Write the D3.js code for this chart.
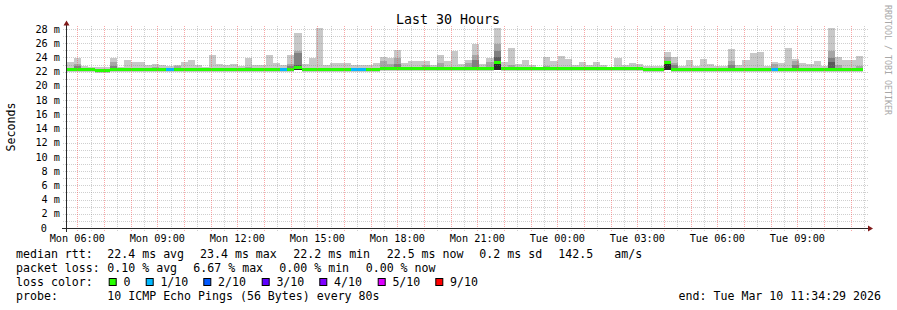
<!DOCTYPE html>
<html>
<head>
<meta charset="utf-8">
<script src="https://d3js.org/d3.v7.min.js"></script>
<style>
  html, body { margin: 0; padding: 0; background: #fff; }
  svg { display: block; }
  text { font-family: "DejaVu Sans Mono", monospace; fill: #000; white-space: pre; }
</style>
</head>
<body>
<svg id="viz"></svg>
<script>
// ----------------------------------------------------------------------------------------------------------------
// DATA

var titleText = "Last 30 Hours";
var axisTitle = "Seconds";
var sideText = "RRDTOOL / TOBI OETIKER";

var tStart = new Date(2026, 2, 9, 5, 34, 29);
var tEnd = new Date(2026, 2, 10, 11, 34, 29);
var colStart = new Date(2026, 2, 9, 5, 36, 29);   // first 16 minute step
var colMinutes = 16;

// median rtt per step (ms)
var rttMedian = [
  22.3, 22.3, 22.3, 22.3, 22.1, 22.15, 22.3, 22.3, 22.3, 22.3, 22.3, 22.3, 22.3, 22.3, 22.3, 22.3,
  22.3, 22.3, 22.3, 22.3, 22.3, 22.3, 22.3, 22.3, 22.3, 22.3, 22.3, 22.3, 22.3, 22.3, 22.3, 22.3,
  22.6, 22.25, 22.25, 22.25, 22.25, 22.25, 22.25, 22.25, 22.3, 22.3, 22.3, 22.3, 22.45, 22.45, 22.45, 22.45,
  22.45, 22.45, 22.45, 22.45, 22.45, 22.45, 22.45, 22.45, 22.45, 22.45, 22.45, 22.45, 23.3, 22.4, 22.4, 22.4,
  22.4, 22.4, 22.4, 22.4, 22.4, 22.4, 22.4, 22.4, 22.4, 22.4, 22.4, 22.4, 22.4, 22.4, 22.4, 22.4,
  22.4, 22.25, 22.25, 22.25, 23.25, 22.3, 22.3, 22.3, 22.3, 22.3, 22.3, 22.3, 22.3, 22.3, 22.3, 22.3,
  22.3, 22.3, 22.3, 22.3, 22.3, 22.3, 22.3, 22.3, 22.3, 22.3, 22.3, 22.3, 22.3, 22.3, 22.3, 22.3
];

// fastest ping per step (ms)
var rttMin = [
  21.95, 21.95, 21.95, 21.95, 21.8, 21.8, 21.95, 21.95, 21.95, 21.95, 21.95, 21.95, 21.95, 21.95, 21.95, 21.95,
  21.95, 21.95, 21.95, 21.95, 21.95, 21.95, 21.95, 21.95, 21.95, 21.95, 21.95, 21.95, 21.95, 21.95, 21.95, 21.95,
  22.2, 21.9, 21.9, 21.9, 21.9, 21.9, 21.9, 21.9, 21.95, 21.95, 21.95, 21.95, 22.1, 22.1, 22.1, 22.1,
  22.1, 22.1, 22.1, 22.1, 22.1, 22.1, 22.1, 22.1, 22.1, 22.1, 22.1, 22.1, 22.2, 22.05, 22.05, 22.05,
  22.05, 22.05, 22.05, 22.05, 22.05, 22.05, 22.05, 22.05, 22.05, 22.05, 22.05, 22.05, 22.05, 22.05, 22.05, 22.05,
  22.05, 21.9, 21.9, 21.9, 22.2, 21.95, 21.95, 21.95, 21.95, 21.95, 21.95, 21.95, 21.95, 21.95, 21.95, 21.95,
  21.95, 21.95, 21.95, 21.95, 21.95, 21.95, 21.95, 21.95, 21.95, 21.95, 21.95, 21.95, 21.95, 21.95, 21.95, 21.95
];

// slowest ping per step (ms)
var rttMax = [
  23.4, 23.94, 22.8, 22.6, 22.6, 22.7, 23.85, 22.6, 23.7, 23.3, 23.3, 22.9, 23.1, 22.9, 22.8, 22.9,
  23.3, 23.57, 23.0, 22.6, 24.4, 23.1, 22.9, 23.1, 22.8, 23.94, 22.9, 22.9, 24.4, 23.24, 22.9, 24.4,
  27.44, 23.1, 23.94, 28.1, 22.96, 23.24, 23.24, 23.24, 22.96, 22.96, 22.96, 23.24, 24.08, 23.94, 25.06, 23.24,
  23.52, 23.52, 23.52, 22.96, 24.36, 23.52, 24.92, 23.1, 23.66, 25.9, 23.1, 23.94, 28.1, 23.38, 25.34, 23.1,
  23.66, 22.96, 22.5, 24.08, 23.52, 24.2, 23.8, 22.96, 23.38, 22.96, 23.38, 22.96, 22.7, 23.94, 22.96, 23.24,
  23.1, 22.8, 22.8, 22.8, 24.8, 24.08, 22.8, 23.66, 22.8, 23.8, 23.1, 22.8, 22.8, 25.2, 22.96, 23.66,
  24.64, 24.8, 22.8, 23.38, 23.24, 25.34, 23.8, 23.24, 23.1, 23.52, 22.8, 28.1, 24.08, 23.66, 23.66, 24.2
];

// inner smoke bands [step, upper ms] (only where they rise above the median)
var rttP9 = [
  [1, 23.1], [6, 23.3], [12, 22.65], [15, 22.75], [25, 22.7], [31, 23.1], [32, 24.9], [44, 23.5],
  [45, 23.05], [46, 23.9], [50, 22.96], [52, 23.24], [56, 23.24], [57, 24.36], [59, 23.38], [60, 25.9],
  [61, 22.65], [62, 22.9], [67, 22.8], [84, 24.1], [85, 23.2], [93, 23.52], [99, 23.1], [102, 23.52],
  [107, 24.92], [108, 23.0], [111, 22.8]
];
var rttP8 = [
  [1, 22.8], [6, 22.75], [31, 22.8], [32, 24.6], [46, 23.05], [57, 23.6], [60, 24.9], [84, 23.5],
  [85, 22.9], [93, 23.0], [102, 23.0], [107, 23.94]
];
var rttP7 = [[32, 23.0], [46, 22.7], [60, 24.1], [84, 23.0], [107, 23.4]];
var rttCore = [[32, 22.2, 22.6], [60, 22.2, 23.4], [84, 22.2, 23.35]];

// lost pings per step [step, count of 10]
var lossSteps = [[14, 1], [30, 1], [40, 1], [41, 1], [99, 1]];

var lossLevels = [0, 1, 2, 3, 4, 5, 9];
var lossLabels = ["0", "1/10", "2/10", "3/10", "4/10", "5/10", "9/10"];
var lossColors = ["#26ff00", "#00b8ff", "#0059ff", "#5e00ff", "#7e00ff", "#dd00ff", "#ff0000"];

var yTicks = [0, 2, 4, 6, 8, 10, 12, 14, 16, 18, 20, 22, 24, 26, 28];
var yMinor = [1, 3, 5, 7, 9, 11, 13, 15, 17, 19, 21, 23, 25, 27];

var medianLabel = "median rtt:";
var medianStats = ["22.4 ms avg", "23.4 ms max", "22.2 ms min", "22.5 ms now", "0.2 ms sd", "142.5", "am/s"];
var lossLabel = "packet loss:";
var lossStats = ["0.10 % avg", "6.67 % max", "0.00 % min", "0.00 % now"];
var colorLabel = "loss color:";
var probeLabel = "probe:";
var probeText = "10 ICMP Echo Pings (56 Bytes) every 80s";
var endText = "end: Tue Mar 10 11:34:29 2026";


// ----------------------------------------------------------------------------------------------------------------
// INITIAL SETUP

var w = 897;
var h = 310;
var viz = d3.select("#viz").attr("width", w).attr("height", h);

var x = d3.scaleTime().domain([tStart, tEnd]).range([66, 866]);
var y = d3.scaleLinear().domain([0, 28.14]).range([228, 28]);

function crisp(v) { return Math.round(v) + 0.5; }
function stepTime(i) { return d3.timeMinute.offset(colStart, i * colMinutes); }
function lossAt(i) {
  var hit = lossSteps.find(function(d) { return d[0] === i; });
  return hit ? hit[1] : 0;
}
function lossColor(n) {
  var k = 0;
  lossLevels.forEach(function(l, j) { if (n >= l) k = j; });
  return lossColors[k];
}

var steps = d3.range(rttMedian.length);


// ----------------------------------------------------------------------------------------------------------------
// SMOKE

var smoke = viz.append("g").attr("shape-rendering", "crispEdges");

smoke.selectAll("rect.band1")
  .data(steps)
  .enter()
  .append("rect")
  .attr("class", "band1")
  .attr("x", function(i) { return Math.round(x(stepTime(i))); })
  .attr("width", function(i) { return Math.round(x(stepTime(i + 1))) - Math.round(x(stepTime(i))); })
  .attr("y", function(i) { return y(rttMax[i]); })
  .attr("height", function(i) { return y(rttMin[i]) - y(rttMax[i]); })
  .attr("fill", "#c8c8c8");

function drawBand(list, fill) {
  smoke.selectAll(null)
    .data(list)
    .enter()
    .append("rect")
    .attr("x", function(d) { return Math.round(x(stepTime(d[0]))); })
    .attr("width", function(d) { return Math.round(x(stepTime(d[0] + 1))) - Math.round(x(stepTime(d[0]))); })
    .attr("y", function(d) { return y(d[1]); })
    .attr("height", function(d) { return Math.max(0, y(rttMedian[d[0]]) - y(d[1])); })
    .attr("fill", fill);
}
drawBand(rttP9, "#a6a6a6");
drawBand(rttP8, "#808080");
drawBand(rttP7, "#5a5a5a");

smoke.selectAll("rect.core")
  .data(rttCore)
  .enter()
  .append("rect")
  .attr("class", "core")
  .attr("x", function(d) { return Math.round(x(stepTime(d[0]))); })
  .attr("width", function(d) { return Math.round(x(stepTime(d[0] + 1))) - Math.round(x(stepTime(d[0]))); })
  .attr("y", function(d) { return y(d[2]); })
  .attr("height", function(d) { return y(d[1]) - y(d[2]); })
  .attr("fill", "#262626");

// median line, coloured by loss
smoke.selectAll("line.median")
  .data(steps)
  .enter()
  .append("line")
  .attr("class", "median")
  .attr("x1", function(i) { return Math.round(x(stepTime(i))); })
  .attr("x2", function(i) { return Math.round(x(stepTime(i + 1))); })
  .attr("y1", function(i) { return y(rttMedian[i]); })
  .attr("y2", function(i) { return y(rttMedian[i]); })
  .attr("stroke", function(i) { return lossColor(lossAt(i)); })
  .attr("stroke-width", 3);


// ----------------------------------------------------------------------------------------------------------------
// GRID

// dotted 1 on / 1 off, lines sit on pixel centres so the dots stay sharp
var grid = viz.append("g").attr("stroke-dasharray", "1,1");

var halfHours = d3.timeMinute.every(30).range(tStart, tEnd).filter(function(t) { return t.getMinutes() !== 0; });
var hours = d3.timeHour.range(tStart, tEnd);

grid.selectAll("line.vmin")
  .data(halfHours)
  .enter()
  .append("line")
  .attr("x1", function(d) { return crisp(x(d)); })
  .attr("x2", function(d) { return crisp(x(d)); })
  .attr("y1", 26).attr("y2", 231)
  .attr("stroke", "#808080").attr("stroke-opacity", 0.38);

// horizontal grid, every 1 m
grid.selectAll("line.ygrid")
  .data(yMinor.concat(yTicks.slice(1)))
  .enter()
  .append("line")
  .attr("x1", 63).attr("x2", 869)
  .attr("y1", function(d) { return crisp(y(d)); })
  .attr("y2", function(d) { return crisp(y(d)); })
  .attr("stroke", "#808080").attr("stroke-opacity", 0.38);

grid.selectAll("line.vmaj")
  .data(hours)
  .enter()
  .append("line")
  .attr("x1", function(d) { return crisp(x(d)); })
  .attr("x2", function(d) { return crisp(x(d)); })
  .attr("y1", 26).attr("y2", 231)
  .attr("stroke", "#f55050").attr("stroke-opacity", 0.5);


// ----------------------------------------------------------------------------------------------------------------
// AXES

var axisY = crisp(y(0));
viz.append("line")
  .attr("x1", 62).attr("x2", 868).attr("y1", axisY).attr("y2", axisY)
  .attr("stroke", "#292929").attr("shape-rendering", "crispEdges");
viz.append("line")
  .attr("x1", 66.5).attr("x2", 66.5).attr("y1", 232).attr("y2", 24)
  .attr("stroke", "#292929").attr("shape-rendering", "crispEdges");
viz.append("path")
  .attr("d", "M868," + (axisY - 3) + "L873," + axisY + "L868," + (axisY + 3) + "Z")
  .attr("fill", "#801a1a");
viz.append("path")
  .attr("d", "M63.5,25.5L66.5,20.5L69.5,25.5Z")
  .attr("fill", "#801a1a");

viz.selectAll("text.ylab")
  .data(yTicks)
  .enter()
  .append("text")
  .attr("class", "ylab")
  .attr("x", function(d) { return d === 0 ? 47 : 60; })
  .attr("y", function(d) { return y(d) + 3.6; })
  .attr("text-anchor", "end")
  .style("font-size", "10.2px")
  .text(function(d) { return d === 0 ? "0" : d + " m"; });

var fmt = d3.timeFormat("%a %H:%M");
viz.selectAll("text.xlab")
  .data(d3.timeHour.every(3).range(tStart, tEnd))
  .enter()
  .append("text")
  .attr("class", "xlab")
  .attr("x", function(d) { return x(d); })
  .attr("y", 242)
  .attr("text-anchor", "middle")
  .style("font-size", "10.2px")
  .text(fmt);


// ----------------------------------------------------------------------------------------------------------------
// TITLES

viz.append("text")
  .attr("x", 448).attr("y", 24)
  .attr("text-anchor", "middle")
  .style("font-size", "13.3px")
  .text(titleText);

viz.append("text")
  .attr("transform", "translate(15,127) rotate(-90)")
  .attr("text-anchor", "middle")
  .style("font-size", "11.6px")
  .text(axisTitle);

viz.append("text")
  .attr("transform", "translate(884.5,5) rotate(90)")
  .style("font-size", "8.3px")
  .style("fill", "#a8a8a8")
  .text(sideText);


// ----------------------------------------------------------------------------------------------------------------
// LEGEND

var legend = viz.append("g").style("font-size", "11.6px");
var statX = [107.3, 200, 293.3, 386.7, 479.3, 558.3, 614.3];
var lossX = [107.3, 193.3, 279.3, 365.7];
var swatchX = [108.7, 145.7, 203.3, 261.7, 319.3, 377.7, 435.3];

legend.append("text").attr("x", 16).attr("y", 258).text(medianLabel);
legend.selectAll("text.ms")
  .data(medianStats)
  .enter()
  .append("text")
  .attr("x", function(d, i) { return statX[i]; })
  .attr("y", 258)
  .text(function(d) { return d; });

legend.append("text").attr("x", 16).attr("y", 272).text(lossLabel);
legend.selectAll("text.loss")
  .data(lossStats)
  .enter()
  .append("text")
  .attr("x", function(d, i) { return lossX[i]; })
  .attr("y", 272)
  .text(function(d) { return d; });

legend.append("text").attr("x", 16).attr("y", 286).text(colorLabel);
legend.selectAll("rect.swatch")
  .data(lossColors)
  .enter()
  .append("rect")
  .attr("x", function(d, i) { return swatchX[i] + 0.5; })
  .attr("y", 278.5)
  .attr("width", 7).attr("height", 7)
  .attr("fill", function(d) { return d; })
  .attr("stroke", "#000");
legend.selectAll("text.swatch")
  .data(lossLabels)
  .enter()
  .append("text")
  .attr("x", function(d, i) { return swatchX[i] + 14.7; })
  .attr("y", 286)
  .text(function(d) { return d; });

legend.append("text").attr("x", 16).attr("y", 300).text(probeLabel);
legend.append("text").attr("x", 107.3).attr("y", 300).text(probeText);
legend.append("text").attr("x", 881).attr("y", 300).attr("text-anchor", "end").text(endText);
</script>
</body>
</html>
